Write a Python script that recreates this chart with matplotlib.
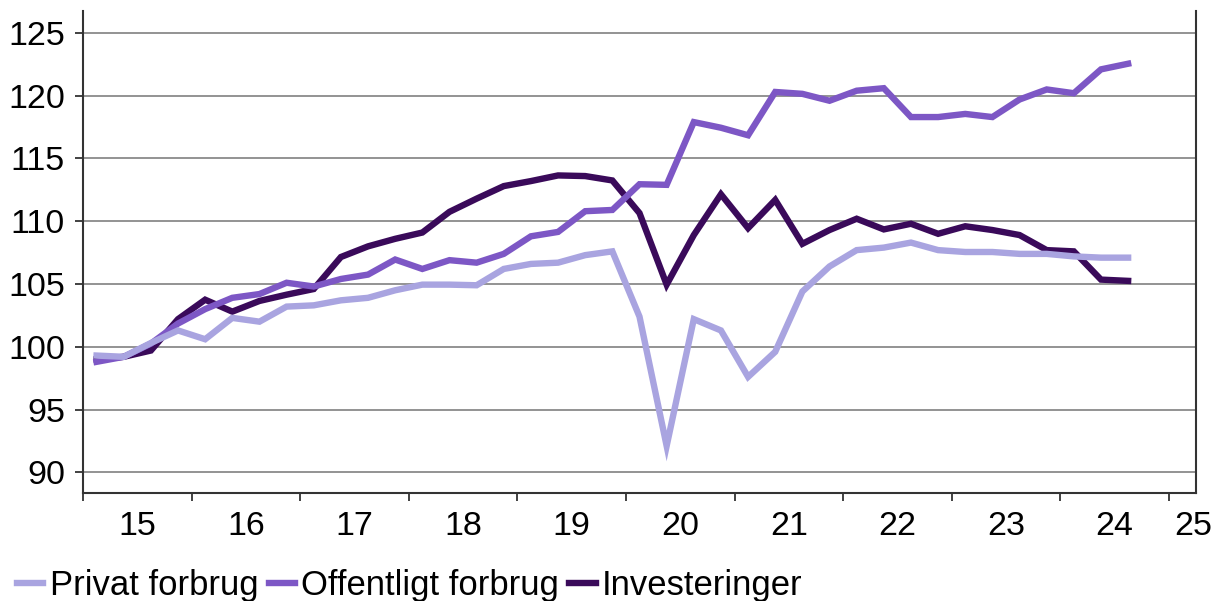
import numpy as np
import matplotlib
matplotlib.use("Agg")
import matplotlib.pyplot as plt

# Quarterly index values, 2015Q1 - 2024Q3
privat = [99.3, 99.2, 100.3, 101.3, 100.6, 102.3, 102.0, 103.2, 103.3, 103.7,
          103.9, 104.5, 104.95, 104.95, 104.9, 106.2, 106.6, 106.7, 107.3, 107.6,
          102.4, 92.1, 102.2, 101.3, 97.6, 99.6, 104.4, 106.4, 107.7, 107.9,
          108.3, 107.7, 107.55, 107.55, 107.4, 107.4, 107.2, 107.1, 107.1]
offentligt = [98.8, 99.2, 100.25, 101.85, 103.0, 103.9, 104.2, 105.1, 104.8, 105.4,
              105.75, 106.95, 106.2, 106.9, 106.7, 107.4, 108.8, 109.15, 110.8, 110.9,
              112.95, 112.9, 117.9, 117.45, 116.85, 120.3, 120.15, 119.6, 120.4, 120.6,
              118.3, 118.3, 118.55, 118.3, 119.7, 120.5, 120.2, 122.1, 122.55]
investeringer = [99.0, 99.2, 99.7, 102.2, 103.75, 102.8, 103.65, 104.15, 104.6, 107.15,
                 108.0, 108.6, 109.1, 110.75, 111.8, 112.8, 113.2, 113.65, 113.6, 113.25,
                 110.65, 104.95, 108.9, 112.15, 109.45, 111.7, 108.2, 109.3, 110.2, 109.35,
                 109.8, 109.0, 109.6, 109.3, 108.9, 107.7, 107.6, 105.35, 105.25]
year_labels = ["15", "16", "17", "18", "19", "20", "21", "22", "23", "24", "25"]
yticks = [90, 95, 100, 105, 110, 115, 120, 125]

names = ["Privat forbrug", "Offentligt forbrug", "Investeringer"]
colors = ["#A9A4E0", "#7D57C5", "#3A0A5A"]

plt.rcParams['font.family'] = ['Liberation Sans', 'DejaVu Sans']
FS = 24.5
LFS = 24.9

fig = plt.figure(figsize=(12.18, 6.01), dpi=100)
ax = fig.add_axes([83/1218, 1-493/601, (1196-83)/1218, (493-11)/601])

n = len(privat)
x = np.arange(n) + 0.5
series = [privat, offentligt, investeringer]
zorders = [5, 4, 3]
handles = []
for s, c, nm, z in zip(series, colors, names, zorders):
    h, = ax.plot(x, s, color=c, lw=4.6, label=nm, zorder=z, solid_joinstyle='miter')
    handles.append(h)

ax.set_xlim(0, 41)
ax.set_ylim(88.35, 126.75)
ax.set_yticks(yticks)
ax.set_yticklabels([str(v) for v in yticks])
ax.yaxis.grid(True, color='#8a8a8a', lw=1.3)
ax.set_axisbelow(True)

major = np.arange(0, 41, 4)
ax.set_xticks(major)
ax.set_xticklabels([])
label_pos = [2 + 4*k for k in range(10)] + [40.9]
ax.set_xticks(label_pos, minor=True)
ax.set_xticklabels(year_labels, minor=True)
ax.tick_params(axis='x', which='major', length=6, width=1.3, color='#333333', direction='out')
ax.tick_params(axis='x', which='minor', length=0, pad=13, labelsize=FS)
ax.tick_params(axis='y', length=6, width=1.3, color='#333333', pad=7, labelsize=FS)

for sp in ['left', 'bottom', 'right']:
    ax.spines[sp].set_color('#333333')
    ax.spines[sp].set_linewidth(1.5)
ax.spines['top'].set_visible(False)

fig.legend(handles=handles, labels=names, loc='lower left',
           bbox_to_anchor=(17/1218, -1/601), ncol=3, frameon=False,
           fontsize=LFS, handlelength=0.76, handletextpad=0.18,
           columnspacing=0.3, borderaxespad=0, borderpad=0)

fig.savefig("out.png", dpi=100)
